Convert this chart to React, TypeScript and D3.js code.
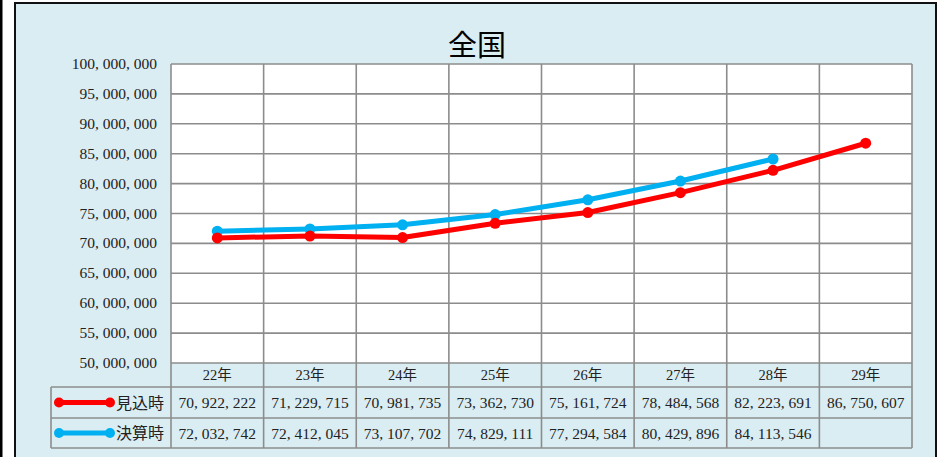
import React from "react";
import * as d3 from "d3";

const years = ["22年", "23年", "24年", "25年", "26年", "27年", "28年", "29年"];
const mikomi = [70922222, 71229715, 70981735, 73362730, 75161724, 78484568, 82223691, 86750607];
const kessan: (number | null)[] = [72032742, 72412045, 73107702, 74829111, 77294584, 80429896, 84113546, null];
const yTicks = [50000000, 55000000, 60000000, 65000000, 70000000, 75000000, 80000000, 85000000, 90000000, 95000000, 100000000];
const seriesNames = ["見込時", "決算時"];
const seriesColors = ["#ff0000", "#00b0f0"];
const title = "全国";

const W = 938, H = 457;
const plot = { l: 171, r: 912, t: 64, b: 363 };
const tableLeft = 51;
const rowY = [363, 387, 418, 448];
const FONT = "'Liberation Serif', 'DejaVu Serif', 'Noto Sans CJK JP', serif";
const GRID = "#8c8c8c";

const fmt = (v: number) => d3.format(",")(v).replace(/,/g, ", ");

export default function App() {
  const x = d3.scaleBand<string>().domain(years).range([plot.l, plot.r]);
  const y = d3.scaleLinear().domain([50000000, 100000000]).range([plot.b, plot.t]);
  const cx = (d: string) => (x(d) ?? 0) + x.bandwidth() / 2;

  const line = d3
    .line<number | null>()
    .defined((d) => d != null)
    .x((_, i) => cx(years[i]))
    .y((d) => y(d as number));

  const series = [mikomi, kessan as (number | null)[]];

  return (
    <svg width={W} height={H} style={{ position: "absolute", left: 0, top: 0 }}>
      <rect x={0} y={0} width={W} height={H} fill="#ffffff" />
      <rect x={0} y={0} width={2.5} height={H} fill="#000" />
      <rect x={15} y={3} width={921} height={H + 10} fill="#daedf3" stroke="#111" strokeWidth={2} />
      <text x={477} y={56} textAnchor="middle" fontFamily="'Noto Sans CJK JP', sans-serif" fontSize={29} fill="#000">
        {title}
      </text>
      {/* plot area */}
      <rect x={plot.l} y={plot.t} width={plot.r - plot.l} height={plot.b - plot.t} fill="#fff" />
      {yTicks.map((t) => (
        <line key={t} x1={plot.l} x2={plot.r} y1={y(t)} y2={y(t)} stroke={GRID} strokeWidth={1.6} />
      ))}
      {years.map((yr, i) => (
        <line key={yr} x1={x(yr)} x2={x(yr)} y1={plot.t} y2={rowY[3]} stroke={GRID} strokeWidth={1.6} />
      ))}
      <line x1={plot.r} x2={plot.r} y1={plot.t} y2={rowY[3]} stroke={GRID} strokeWidth={1.6} />
      {yTicks.map((t) => (
        <text key={"l" + t} x={157} y={y(t) + 5} textAnchor="end" fontFamily={FONT} fontSize={15.5} fill="#222">
          {fmt(t)}
        </text>
      ))}
      {/* table */}
      {rowY.slice(1).map((ry) => (
        <line key={ry} x1={tableLeft} x2={plot.r} y1={ry} y2={ry} stroke={GRID} strokeWidth={1.6} />
      ))}
      <line x1={tableLeft} x2={tableLeft} y1={rowY[1]} y2={rowY[3]} stroke={GRID} strokeWidth={1.6} />
      {years.map((yr) => (
        <text key={"c" + yr} x={cx(yr)} y={(rowY[0] + rowY[1]) / 2 + 5} textAnchor="middle" fontFamily={FONT} fontSize={14.5} fill="#222">
          {yr}
        </text>
      ))}
      {series.map((s, si) => (
        <g key={"row" + si}>
          {s.map((v, i) =>
            v == null ? null : (
              <text key={i} x={cx(years[i])} y={(rowY[si + 1] + rowY[si + 2]) / 2 + 5.5} textAnchor="middle" fontFamily={FONT} fontSize={15.5} fill="#222">
                {fmt(v)}
              </text>
            )
          )}
          <line x1={59} x2={110} y1={(rowY[si + 1] + rowY[si + 2]) / 2} y2={(rowY[si + 1] + rowY[si + 2]) / 2} stroke={seriesColors[si]} strokeWidth={5} />
          <circle cx={59} cy={(rowY[si + 1] + rowY[si + 2]) / 2} r={5} fill={seriesColors[si]} />
          <circle cx={110} cy={(rowY[si + 1] + rowY[si + 2]) / 2} r={5} fill={seriesColors[si]} />
          <text x={164} y={(rowY[si + 1] + rowY[si + 2]) / 2 + 6} textAnchor="end" fontFamily="'Noto Sans CJK JP', sans-serif" fontSize={16} fill="#222">
            {seriesNames[si]}
          </text>
        </g>
      ))}
      {/* lines */}
      {[1, 0].map((si) => (
        <g key={"s" + si}>
          <path d={line(series[si]) ?? ""} fill="none" stroke={seriesColors[si]} strokeWidth={5} strokeLinejoin="round" />
          {series[si].map((v, i) =>
            v == null ? null : <circle key={i} cx={cx(years[i])} cy={y(v)} r={5.5} fill={seriesColors[si]} />
          )}
        </g>
      ))}
    </svg>
  );
}
